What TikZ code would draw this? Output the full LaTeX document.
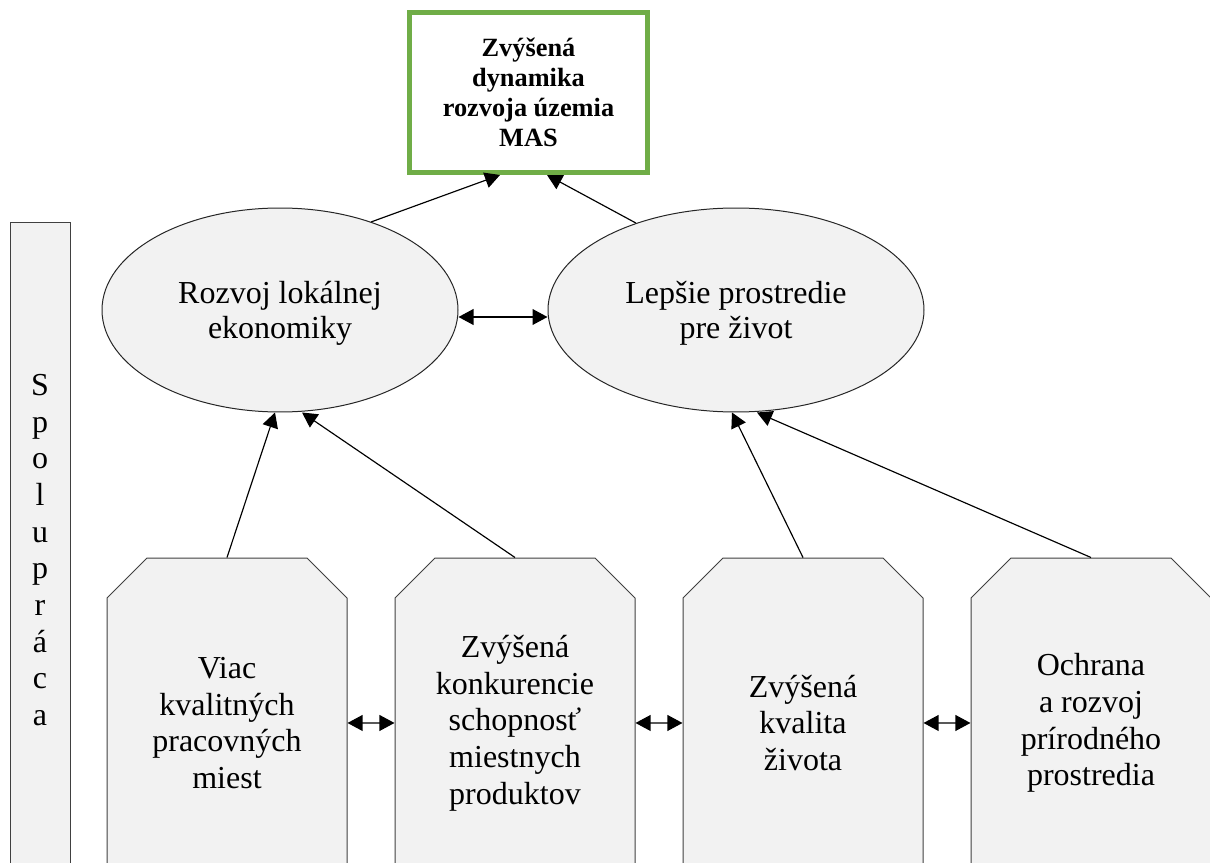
\documentclass[tikz,border=0pt]{standalone}
\usepackage{fontspec}
\setmainfont{Liberation Serif}
\definecolor{masgreen}{RGB}{112,173,71}
\definecolor{masgray}{RGB}{242,242,242}
\usetikzlibrary{arrows.meta,shapes.geometric,shapes.misc}

\begin{document}
\begin{tikzpicture}[x=0.6pt,y=-0.6pt,
  goalbox/.style={draw=masgreen,line width=3pt,fill=white,minimum width=142.8pt,minimum height=96pt,align=center,font=\fontsize{15.8}{18}\selectfont\bfseries},
  aimell/.style={ellipse,draw=black!85,line width=0.6pt,fill=masgray,inner sep=0pt,minimum height=122.4pt,text depth=-3pt,align=center,font=\fontsize{19.2}{21}\selectfont},
  measbox/.style={chamfered rectangle,chamfered rectangle corners={north west,north east},chamfered rectangle sep=12pt,draw=black!75,line width=0.6pt,fill=masgray,minimum width=144pt,minimum height=198pt,inner sep=0pt,align=center,font=\fontsize{19.2}{22}\selectfont},
  link/.style={-{Triangle[length=9pt,width=9.5pt]},line width=0.7pt},
  twolink/.style={{Triangle[length=9pt,width=9.5pt]}-{Triangle[length=9pt,width=9.5pt]},line width=0.7pt}]
\useasboundingbox (0,0) rectangle (1210,863);
\node[goalbox] (goal) at (528.5,92.5) {Zvýšená\\ dynamika\\ rozvoja územia\\ MAS};
\node[aimell,minimum width=213.6pt] (eco) at (280,310) {Rozvoj lokálnej\\ ekonomiky};
\node[aimell,minimum width=225.6pt] (env) at (736,310) {Lepšie prostredie\\ pre život};
\node[draw=black!75,line width=0.6pt,fill=masgray,minimum width=36pt,minimum height=393.6pt,inner sep=0pt,align=center,font=\fontsize{19.2}{22}\selectfont] (coop) at (40,550) {S\\ p\\ o\\ l\\ u\\ p\\ r\\ á\\ c\\ a};
\node[measbox] (b1) at (227,723) {Viac\\ kvalitných\\ pracovných\\ miest};
\node[measbox] (b2) at (515,723) {Zvýšená\\ konkurencie\\ schopnosť\\ miestnych\\ produktov};
\node[measbox] (b3) at (803,723) {Zvýšená\\ kvalita\\ života};
\node[measbox] (b4) at (1091,723) {Ochrana\\ a rozvoj\\ prírodného\\ prostredia};
\draw[link] (eco.44) -- ([xshift=-17.1pt]goal.south);
\draw[link] (env.139) -- ([xshift=11.1pt]goal.south);
\draw[twolink] ([yshift=-4.2pt]eco.east) -- ([yshift=-4.2pt]env.west);
\draw[link] (b1.north) -- ([xshift=-3pt]eco.south);
\draw[link] (b2.north) -- ([xshift=13.2pt]eco.south);
\draw[link] (b3.north) -- ([xshift=-2.4pt]env.south);
\draw[link] (b4.north) -- ([xshift=12.6pt]env.south);
\foreach \from/\to in {b1/b2,b2/b3,b3/b4}{
  \draw[twolink] (\from) -- (\to);}
\end{tikzpicture}
\end{document}
